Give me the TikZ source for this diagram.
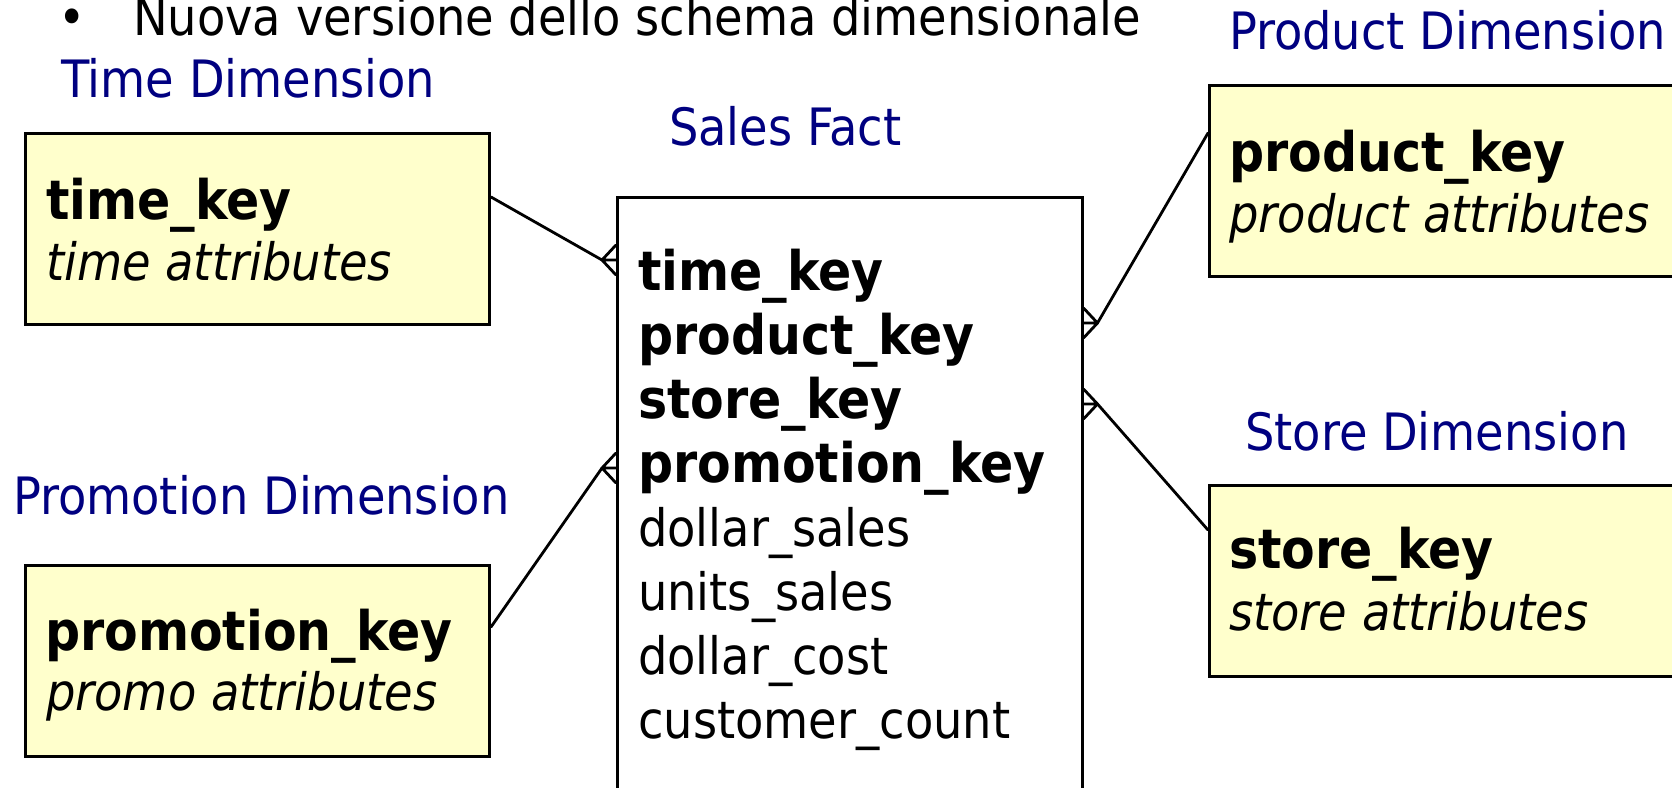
\documentclass[tikz,border=0pt]{standalone}
\usepackage{fontspec}
\setmainfont{DejaVu Sans Condensed}
\usetikzlibrary{positioning,calc}
\definecolor{schemanavy}{RGB}{0,0,128}
\definecolor{schemacream}{RGB}{255,255,204}
\newcommand{\schemasize}{\fontsize{51.5}{62}\selectfont}
\newcommand{\schemakeysize}{\fontsize{54.5}{62}\selectfont}

\begin{document}
\begin{tikzpicture}[x=1pt,y=-1pt,
  every node/.style={inner sep=0pt,anchor=base west,font=\schemasize},
  dimbox/.style={draw,line width=3pt,fill=schemacream,anchor=north west,minimum width=464pt,minimum height=191pt},
  keytext/.style={font=\schemakeysize\bfseries},
  attrtext/.style={font=\schemasize\itshape},
  dimlabel/.style={text=schemanavy},
  link/.style={line width=2.8pt,line cap=round}]
\path[use as bounding box] (0,0) rectangle (1672,787);
\clip (0,0) rectangle (1672,787);
% title line
\node (title) at (58,35) {\makebox[75pt][l]{\textbullet}Nuova versione dello schema dimensionale};
% dimension tables
\node[dimbox] (time) at (24,132) {};
\node[dimbox] (promo) at (24,564) {};
\node[dimbox,minimum width=520pt] (product) at (1208,84) {};
\node[dimbox,minimum width=520pt] (store) at (1208,484) {};
% fact table
\node[dimbox,fill=white,line width=2.5pt,minimum width=465pt,minimum height=640pt] (fact) at (616,196) {};
% table titles
\node[dimlabel] (timelbl) at (61,97) {Time Dimension};
\node[dimlabel] (factlbl) at (669,145) {Sales Fact};
\node[dimlabel] (productlbl) at (1229,49) {Product Dimension};
\node[dimlabel] (storelbl) at (1245,450) {Store Dimension};
\node[dimlabel] (promolbl) at (13,514) {Promotion Dimension};
% dimension contents
\node[keytext] (timekey) at ($(time.north west)+(22,87)$) {time\_key};
\node[attrtext] (timeattr) at ($(time.north west)+(22,148)$) {time attributes};
\node[keytext] (promokey) at ($(promo.north west)+(21,86)$) {promotion\_key};
\node[attrtext] (promoattr) at ($(promo.north west)+(22,146)$) {promo attributes};
\node[keytext] (productkey) at ($(product.north west)+(21,87)$) {product\_key};
\node[attrtext] (productattr) at ($(product.north west)+(21,148)$) {product attributes};
\node[keytext] (storekey) at ($(store.north west)+(21,84)$) {store\_key};
\node[attrtext] (storeattr) at ($(store.north west)+(21,146)$) {store attributes};
% fact contents
\foreach \f [count=\i from 0] in {time\_key,product\_key,store\_key,promotion\_key}
  \node[keytext] at ($(fact.north west)+(22,94+64*\i)$) {\f};
\foreach \f [count=\i from 4] in {dollar\_sales,units\_sales,dollar\_cost,customer\_count}
  \node at ($(fact.north west)+(22,94+64*\i)$) {\f};
% links with crow's feet
\coordinate (timecrow) at ($(fact.north west)+(-14,64)$);
\coordinate (promocrow) at ($(fact.north west)+(-14,272)$);
\coordinate (productcrow) at ($(fact.north east)+(14,127)$);
\coordinate (storecrow) at ($(fact.north east)+(14,208)$);
\draw[link] ($(time.north east)+(0,65)$) -- (timecrow);
\draw[link] ($(promo.north east)+(0,63)$) -- (promocrow);
\draw[link] ($(product.north west)+(0,49)$) -- (productcrow);
\draw[link] ($(store.north west)+(0,46)$) -- (storecrow);
\foreach \c/\s in {timecrow/1,promocrow/1,productcrow/-1,storecrow/-1}
  \draw[link] (\c) -- ++(14*\s,-15) (\c) -- ++(14*\s,0) (\c) -- ++(14*\s,15);
\end{tikzpicture}
\end{document}
